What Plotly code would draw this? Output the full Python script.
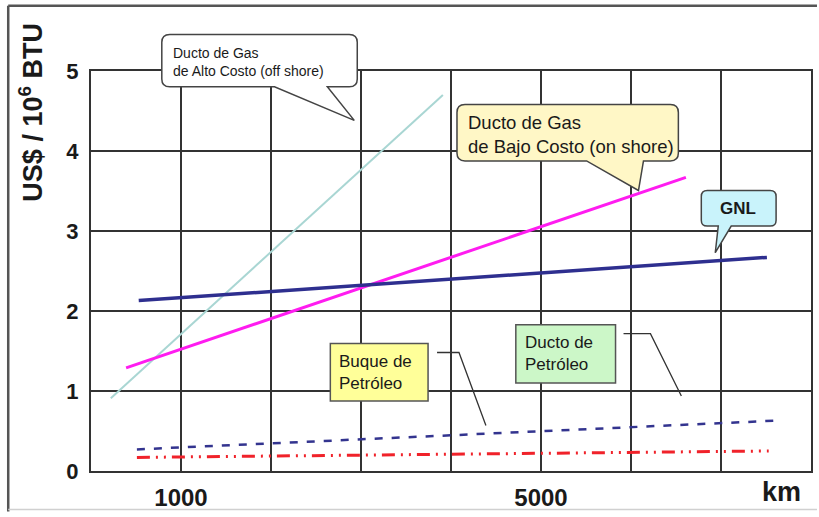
import plotly.graph_objects as go

# ---- data (km, US$ / 10^6 BTU) ----
offshore_km = [220, 3910]
offshore_cost = [0.91, 4.70]
onshore_km = [390, 6610]
onshore_cost = [1.29, 3.67]
gnl_km = [530, 7510]
gnl_cost = [2.13, 2.67]
oilpipe_km = [510, 7620]
oilpipe_cost = [0.27, 0.63]
tanker_km = [510, 7530]
tanker_cost = [0.17, 0.25]

x_ticks = [1000, 5000]
x_ticktext = ["1000", "5000"]
x_grid_step = 1000
y_ticks = [0, 1, 2, 3, 4, 5]

FONT = "Arial, Liberation Sans, sans-serif"

# plot-area geometry in pixels (for placing callouts)
W, H = 819, 517
L, R, T, B = 91, 6, 71, 41
PX0, PX1 = L, W - R
PY0, PY1 = H - B, T


def px(x):
    return (x - PX0) / (PX1 - PX0)


def py(y):
    return (PY0 - y) / (PY0 - PY1)


def callout_path(x0, y0, x1, y1, r, wedge=None):
    s = f"M {px(x0 + r)},{py(y0)} L {px(x1 - r)},{py(y0)} "
    s += f"Q {px(x1)},{py(y0)} {px(x1)},{py(y0 + r)} "
    s += f"L {px(x1)},{py(y1 - r)} Q {px(x1)},{py(y1)} {px(x1 - r)},{py(y1)} "
    if wedge:
        wx0, wx1, tx, ty = wedge
        s += f"L {px(wx1)},{py(y1)} L {px(tx)},{py(ty)} L {px(wx0)},{py(y1)} "
    s += f"L {px(x0 + r)},{py(y1)} Q {px(x0)},{py(y1)} {px(x0)},{py(y1 - r)} "
    s += f"L {px(x0)},{py(y0 + r)} Q {px(x0)},{py(y0)} {px(x0 + r)},{py(y0)} Z"
    return s


fig = go.Figure()

fig.add_trace(go.Scatter(x=offshore_km, y=offshore_cost, mode="lines",
                         line=dict(color="#a9d6d3", width=2), name="Ducto de Gas de Alto Costo (off shore)"))
fig.add_trace(go.Scatter(x=onshore_km, y=onshore_cost, mode="lines",
                         line=dict(color="#ff1cf0", width=3), name="Ducto de Gas de Bajo Costo (on shore)"))
fig.add_trace(go.Scatter(x=gnl_km, y=gnl_cost, mode="lines",
                         line=dict(color="#2e2f8f", width=3.5), name="GNL"))
fig.add_trace(go.Scatter(x=oilpipe_km, y=oilpipe_cost, mode="lines",
                         line=dict(color="#33348f", width=2.5, dash="8px,9px"), name="Ducto de Petróleo"))
fig.add_trace(go.Scatter(x=tanker_km, y=tanker_cost, mode="lines",
                         line=dict(color="#f0222a", width=3, dash="13px,6px,2px,6px,2px,6px"),
                         name="Buque de Petróleo"))

shapes = []
# outer frame
shapes.append(dict(type="line", xref="paper", yref="paper", x0=px(8), x1=px(819), y0=py(5), y1=py(5),
                   line=dict(color="#555555", width=2.5)))
shapes.append(dict(type="line", xref="paper", yref="paper", x0=px(8), x1=px(8), y0=py(5), y1=py(517),
                   line=dict(color="#555555", width=2.5)))
shapes.append(dict(type="line", xref="paper", yref="paper", x0=px(8), x1=px(819), y0=py(515), y1=py(515),
                   line=dict(color="#d0d0d0", width=1.5)))

# callouts
shapes.append(dict(type="path", xref="paper", yref="paper",
                   path=callout_path(162, 34, 358, 87, 8, (275, 328, 355, 121)),
                   fillcolor="white", line=dict(color="#444444", width=1.5)))
shapes.append(dict(type="path", xref="paper", yref="paper",
                   path=callout_path(458, 105, 680, 162, 8, (588, 645, 640, 192)),
                   fillcolor="#fff7c6", line=dict(color="#444444", width=1.5)))
shapes.append(dict(type="path", xref="paper", yref="paper",
                   path=callout_path(703, 192, 778, 228, 6, (720, 733, 717, 255)),
                   fillcolor="#c9f3fb", line=dict(color="#444444", width=1.5)))
shapes.append(dict(type="rect", xref="paper", yref="paper", x0=px(331), x1=px(429), y0=py(347), y1=py(405),
                   fillcolor="#ffff99", line=dict(color="#555555", width=1.5)))
shapes.append(dict(type="rect", xref="paper", yref="paper", x0=px(517), x1=px(617), y0=py(328), y1=py(387),
                   fillcolor="#ccf7c8", line=dict(color="#555555", width=1.5)))
# leader lines
shapes.append(dict(type="path", xref="paper", yref="paper",
                   path=f"M {px(438)},{py(356)} L {px(460)},{py(356)} L {px(487)},{py(430)}",
                   line=dict(color="#333333", width=1.3)))
shapes.append(dict(type="path", xref="paper", yref="paper",
                   path=f"M {px(625)},{py(337)} L {px(652)},{py(337)} L {px(683)},{py(400)}",
                   line=dict(color="#333333", width=1.3)))

ann = []


def text(x, y, s, size, bold=False, xanchor="left", color="#1a1a1a", angle=0):
    ann.append(dict(xref="paper", yref="paper", x=px(x), y=py(y), text=f"<b>{s}</b>" if bold else s,
                    showarrow=False, xanchor=xanchor, yanchor="middle", align="left",
                    textangle=angle, font=dict(family=FONT, size=size, color=color)))


text(171, 62, "Ducto de Gas<br>de Alto Costo (off shore)", 14)
text(467, 135, "Ducto de Gas<br>de Bajo Costo (on shore)", 18.5)
text(740, 210, "GNL", 17, bold=True, xanchor="center")
text(338, 376, "Buque de<br>Petróleo", 17)
text(524, 357, "Ducto de<br>Petróleo", 17)
text(783, 497, "km", 27, bold=True, xanchor="center")
text(31, 113, "US$ / 10<sup>6</sup> BTU", 27, bold=True, xanchor="center", angle=-90)

fig.update_layout(
    width=W, height=H,
    margin=dict(l=L, r=R, t=T, b=B),
    paper_bgcolor="white", plot_bgcolor="white",
    showlegend=False,
    shapes=shapes, annotations=ann,
    font=dict(family=FONT, color="#1a1a1a"),
)
fig.update_xaxes(range=[0, 8000], tickvals=x_ticks, ticktext=x_ticktext,
                 showgrid=True, gridcolor="#333333", gridwidth=1.8,
                 minor=dict(dtick=x_grid_step, tick0=0, showgrid=True, gridcolor="#333333", gridwidth=1.8),
                 showline=True, linecolor="#333333", linewidth=2, mirror=True,
                 zeroline=False, ticks="", ticklabelstandoff=4,
                 tickfont=dict(family=FONT, size=24, color="#1a1a1a", weight="bold"))
fig.update_yaxes(range=[0, 5], tickvals=y_ticks,
                 showgrid=True, gridcolor="#333333", gridwidth=1.8,
                 showline=True, linecolor="#333333", linewidth=2, mirror=True,
                 zeroline=False, ticks="", ticklabelstandoff=6,
                 tickfont=dict(family=FONT, size=22, color="#1a1a1a", weight="bold"))

fig.write_html("out.html", config={"displayModeBar": False},
               post_script="document.body.style.margin='0';document.body.style.overflow='hidden';")
